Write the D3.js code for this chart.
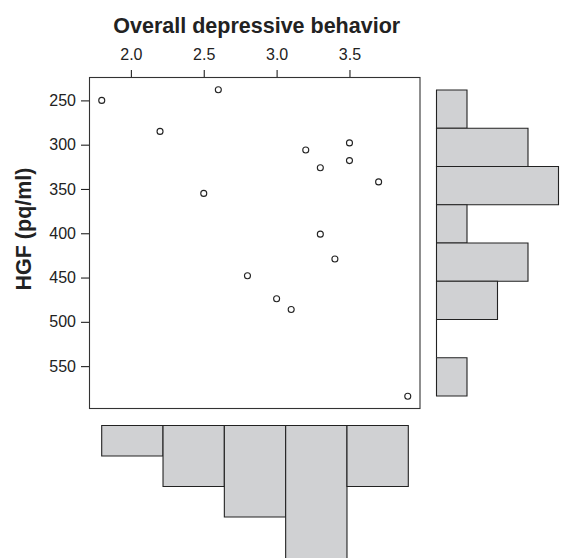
<!DOCTYPE html>
<html>
<head>
<meta charset="utf-8">
<script src="https://cdn.jsdelivr.net/npm/d3@7"></script>
<style>
    body { margin: 0; background: #ffffff; }
    svg { display: block; font-family: "Liberation Sans", Arial, sans-serif; }
</style>
</head>
<body>
<svg id="chart" width="561" height="558"></svg>
<script>
// Scatter data: depressive behavior score vs HGF
const depression = [1.8, 2.6, 2.2, 3.2, 3.5, 3.5, 3.3, 3.7, 2.5, 3.3, 3.4, 2.8, 3.0, 3.1, 3.9];
const hgf = [250, 238, 285, 306, 298, 318, 326, 342, 355, 401, 429, 448, 474, 486, 584];

// Marginal histograms (breaks and counts)
const depressionBreaks = [1.5, 2.0, 2.5, 3.0, 3.5, 4.0];
const depressionCounts = [1, 2, 3, 7, 2];
const hgfBreaks = [200, 250, 300, 350, 400, 450, 500, 550, 600];
const hgfCounts = [1, 3, 4, 1, 3, 2, 0, 1];

// Tick labels
const xTicks = [2.0, 2.5, 3.0, 3.5];
const yTicks = [250, 300, 350, 400, 450, 500, 550];

const xTitle = 'Overall depressive behavior';
const yTitle = 'HGF (pq/ml)';

const svg = d3.select('#chart');
const ink = '#222222';
const barFill = '#d0d1d3';

// Plot region
const plot = { left: 89.5, right: 420, top: 77.5, bottom: 408.5 };

/**
 * R-style axis range: data extent padded by 4% on each side
 */
function padded(values) {
    const [lo, hi] = d3.extent(values);
    const pad = (hi - lo) * 0.04;
    return [lo - pad, hi + pad];
}

const x = d3.scaleLinear().domain(padded(depression)).range([plot.left, plot.right]);
const y = d3.scaleLinear().domain(padded(hgf)).range([plot.top, plot.bottom]);

// Box
svg.append('rect')
    .attr('x', plot.left)
    .attr('y', plot.top)
    .attr('width', plot.right - plot.left)
    .attr('height', plot.bottom - plot.top)
    .attr('fill', 'none')
    .attr('stroke', '#333333')
    .attr('stroke-width', 1.1);

// Top axis
const xAxis = svg.append('g')
    .attr('transform', `translate(0,${plot.top - 0.5})`)
    .call(d3.axisTop(x).tickValues(xTicks).tickFormat(d3.format('.1f')).tickSize(7).tickPadding(10));
xAxis.select('.domain').remove();

// Left axis
const yAxis = svg.append('g')
    .attr('transform', `translate(${plot.left - 0.5},0)`)
    .call(d3.axisLeft(y).tickValues(yTicks).tickSize(8).tickPadding(5));
yAxis.select('.domain').remove();

svg.selectAll('.tick line').attr('stroke', ink).attr('stroke-width', 1.1);
svg.selectAll('.tick text')
    .attr('fill', ink)
    .attr('font-size', '16px')
    .attr('font-family', '"Liberation Sans", Arial, sans-serif');

// Axis titles
svg.append('text')
    .attr('x', (plot.left + plot.right) / 2 + 2)
    .attr('y', 33)
    .attr('text-anchor', 'middle')
    .attr('font-size', '21.5px')
    .attr('font-weight', 'bold')
    .attr('fill', ink)
    .text(xTitle);

svg.append('text')
    .attr('transform', `translate(31,${(plot.top + plot.bottom) / 2 - 14}) rotate(-90)`)
    .attr('text-anchor', 'middle')
    .attr('font-size', '21.5px')
    .attr('font-weight', 'bold')
    .attr('fill', ink)
    .text(yTitle);

// Points
svg.append('g')
    .selectAll('circle')
    .data(depression.map((d, i) => ({ x: d, y: hgf[i] })))
    .join('circle')
    .attr('cx', d => x(d.x))
    .attr('cy', d => y(d.y))
    .attr('r', 3)
    .attr('fill', 'none')
    .attr('stroke', ink)
    .attr('stroke-width', 1.1);

/**
 * Histogram bars drawn as paths so that empty bins still show a line
 */
function barPath(x0, y0, x1, y1) {
    return `M${x0},${y0}H${x1}V${y1}H${x0}Z`;
}

// Right histogram (HGF), bars grow to the right
const hgfPos = d3.scaleLinear().domain([hgfBreaks[0], hgfBreaks[hgfBreaks.length - 1]]).range([90, 396]);
const hgfLen = d3.scaleLinear().domain([0, 4]).range([436.5, 558.5]);

svg.append('g')
    .selectAll('path')
    .data(hgfCounts)
    .join('path')
    .attr('d', (c, i) => barPath(hgfLen(0), hgfPos(hgfBreaks[i]), hgfLen(c), hgfPos(hgfBreaks[i + 1])))
    .attr('fill', barFill)
    .attr('stroke', ink)
    .attr('stroke-width', 1.1);

// Bottom histogram (depression), bars grow downward
const depPos = d3.scaleLinear().domain([depressionBreaks[0], depressionBreaks[depressionBreaks.length - 1]]).range([101.7, 408.3]);
const depLen = d3.scaleLinear().domain([0, 1]).range([425.5, 456]);

svg.append('g')
    .selectAll('path')
    .data(depressionCounts)
    .join('path')
    .attr('d', (c, i) => barPath(depPos(depressionBreaks[i]), depLen(0), depPos(depressionBreaks[i + 1]), depLen(c)))
    .attr('fill', barFill)
    .attr('stroke', ink)
    .attr('stroke-width', 1.1);
</script>
</body>
</html>
